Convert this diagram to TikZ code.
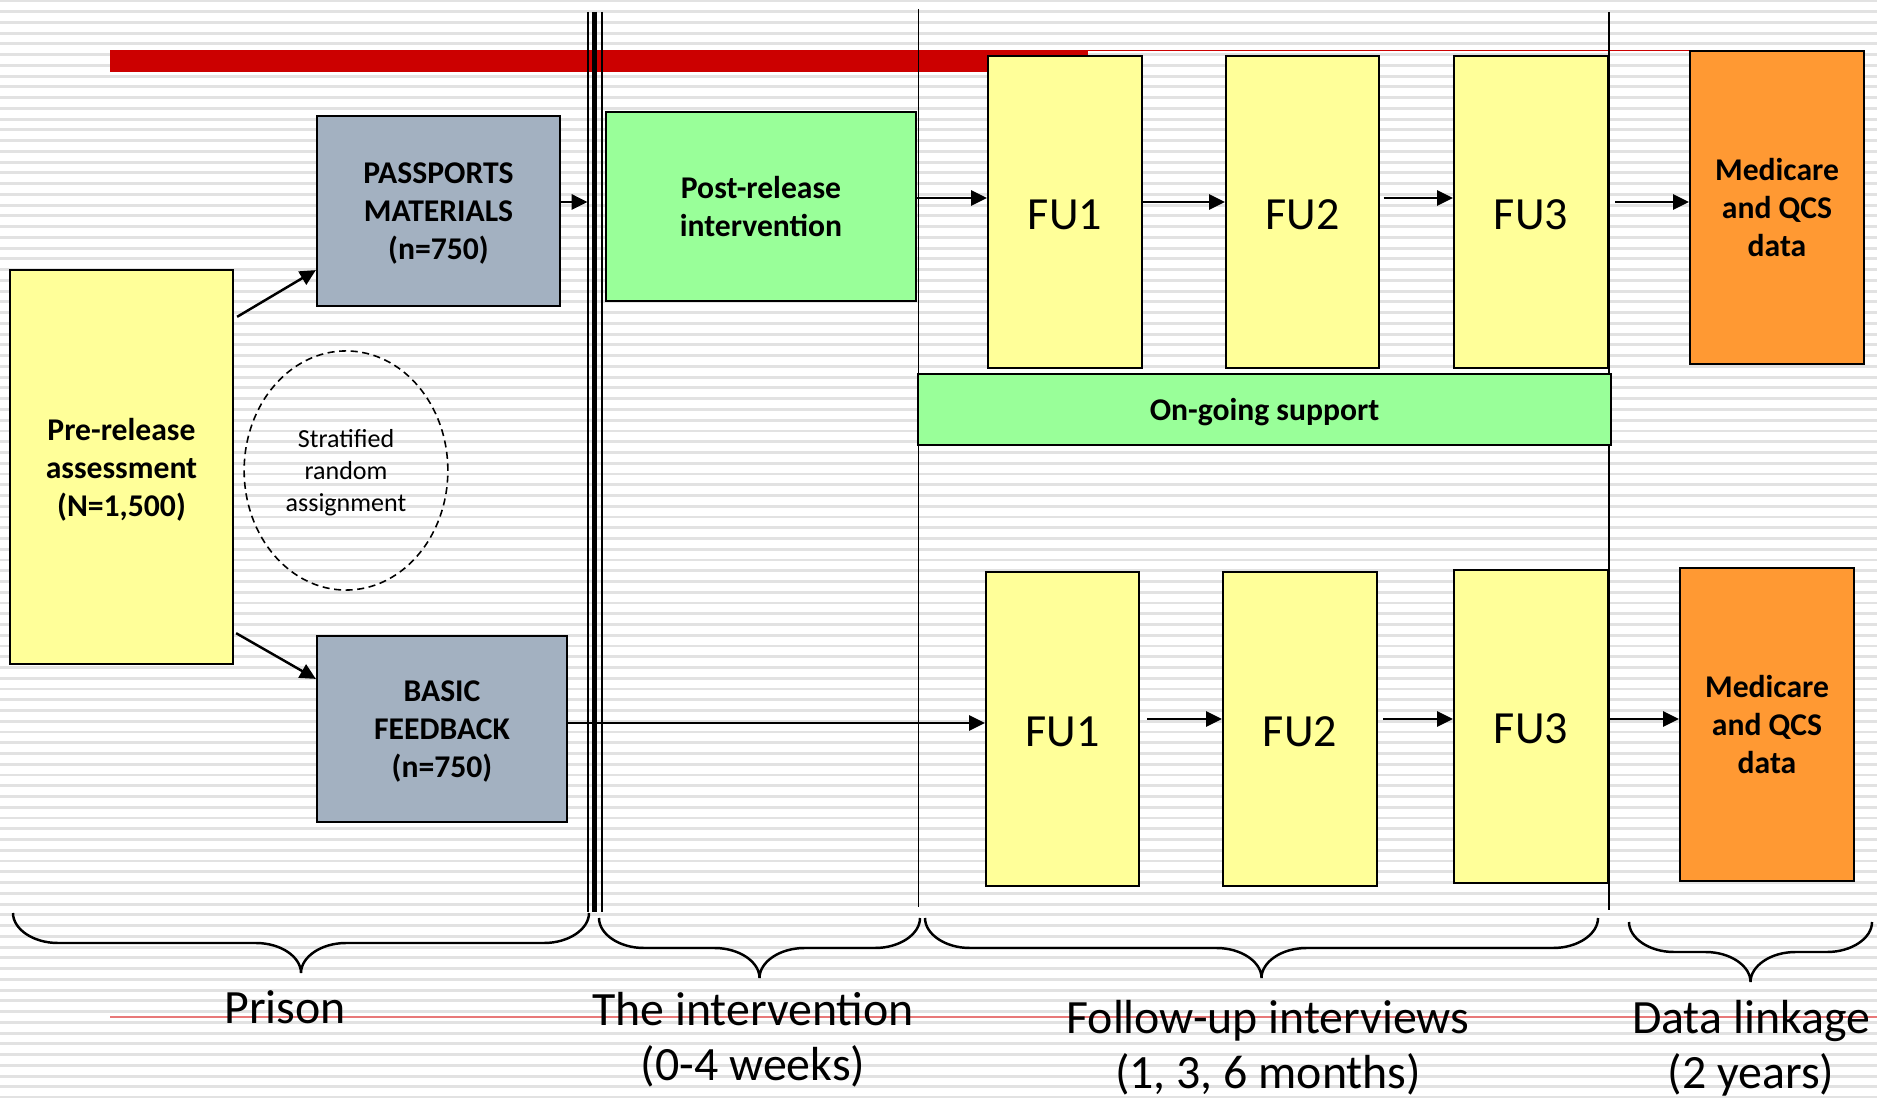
\documentclass[tikz,border=0pt]{standalone}
\usepackage{fontspec}
\setmainfont{Carlito}
\usepackage{xcolor}
\usetikzlibrary{arrows.meta, calc, shapes.geometric}
\definecolor{boxyellow}{HTML}{FFFF99}
\definecolor{boxgrey}{HTML}{A3B1C1}
\definecolor{boxgreen}{HTML}{99FF99}
\definecolor{boxorange}{HTML}{FF9933}
\definecolor{barred}{HTML}{CC0000}
\definecolor{linered}{HTML}{E87878}
\definecolor{stripegrey}{HTML}{E2E2E2}

% curly bracket under a phase: left x, right x, top y
\newcommand{\phasebrace}[3]{%
  \pgfmathsetmacro{\bmid}{(#1+#2)/2}%
  \draw[bracket] (#1,#3) .. controls (#1,{#3+16}) and ({#1+20},{#3+30}) .. ({#1+45},{#3+30})
    -- ({\bmid-45},{#3+30}) .. controls ({\bmid-20},{#3+30}) and (\bmid,{#3+44}) .. (\bmid,{#3+60})
    .. controls (\bmid,{#3+44}) and ({\bmid+20},{#3+30}) .. ({\bmid+45},{#3+30})
    -- ({#2-45},{#3+30}) .. controls ({#2-20},{#3+30}) and (#2,{#3+16}) .. (#2,#3);
}

\begin{document}
\begin{tikzpicture}[x=0.01cm, y=-0.01cm,
    box/.style={draw=black, line width=0.6pt, inner sep=0pt, align=center, text depth=0pt},
    boldtext/.style={font=\fontsize{9}{10.8}\selectfont\bfseries},
    futext/.style={font=\fontsize{13.1}{15}\selectfont, text height=9.9pt},
    phase/.style={font=\fontsize{13.6}{15.5}\selectfont, align=center, anchor=base, inner sep=0pt},
    arr/.style={-{Triangle[length=4.5pt, width=4.3pt]}, line width=0.7pt},
    bracket/.style={line width=0.7pt},
    stripe/.style={stripegrey, line width=0.85pt}]

      % Paper and ruled background
      \useasboundingbox (0,0) rectangle (1877,1098);
      \fill[white] (0,0) rectangle (1877,1098);
      \foreach \k in {0,...,102}
        \draw[stripe] (0,{1+10.75*\k}) -- (1877,{1+10.75*\k});

      % Red title bar and thin red rules
      \fill[barred] (110,50) rectangle (1088,72.5);
      \draw[barred, line width=0.5pt] (1088,50.5) -- (1781,50.5);
      \draw[linered, line width=0.6pt] (110,1017) -- (1877,1017);

      % Release wall (three lines) and phase dividers
      \coordinate (wallL) at (587.5,12);
      \draw[line width=0.57pt] (588.3,12) -- (588.3,912);
      \draw[line width=1.42pt] (594.2,12) -- (594.2,912);
      \draw[line width=0.57pt] (601.7,12) -- (601.7,912);
      \draw[line width=0.5pt] (918.5,9) -- (918.5,907);
      \draw[line width=0.5pt] (1609,12) -- (1609,910);

      % Prison boxes
      \node[box, boldtext, fill=boxyellow, minimum width=2.23cm, minimum height=3.94cm] (pre) at (121.5,467) {Pre-release\\assessment\\(N=1,500)};
      \node[box, boldtext, fill=boxgrey, minimum width=2.43cm, minimum height=1.90cm] (pass) at (438.5,211) {PASSPORTS\\MATERIALS\\(n=750)};
      \node[box, boldtext, fill=boxgrey, minimum width=2.50cm, minimum height=1.86cm] (basic) at (442,729) {BASIC\\FEEDBACK\\(n=750)};
      \node[ellipse, draw, dash pattern=on 2pt off 1.3pt, line width=0.45pt, minimum width=2.00cm, minimum height=2.39cm,
            align=center, text depth=0pt, font=\fontsize{7.4}{9.2}\selectfont] (strat) at (346,470.5) {Stratified\\random\\assignment};

      % Intervention box
      \node[box, boldtext, fill=boxgreen, minimum width=3.10cm, minimum height=1.89cm] (post) at (761,206.5) {Post-release\\intervention};

      % Follow-up boxes, upper arm
      \node[box, futext, fill=boxyellow, minimum width=1.54cm, minimum height=3.12cm] (fuA) at (1065,212) {FU1};
      \node[box, futext, fill=boxyellow, minimum width=1.53cm, minimum height=3.12cm] (fuB) at (1302.5,212) {FU2};
      \node[box, futext, fill=boxyellow, minimum width=1.54cm, minimum height=3.12cm] (fuC) at (1531,212) {FU3};
      \node[box, boldtext, fill=boxorange, minimum width=1.74cm, minimum height=3.13cm] (medA) at (1777,207.5) {Medicare\\and QCS\\data};
      \node[box, boldtext, fill=boxgreen, minimum width=6.93cm, minimum height=0.71cm] (supp) at (1264.5,409.5) {On-going support};

      % Follow-up boxes, lower arm
      \node[box, futext, fill=boxyellow, minimum width=1.53cm, minimum height=3.14cm] (fuD) at (1062.5,729) {FU1};
      \node[box, futext, fill=boxyellow, minimum width=1.54cm, minimum height=3.14cm] (fuE) at (1300,729) {FU2};
      \node[box, futext, fill=boxyellow, minimum width=1.54cm, minimum height=3.13cm] (fuF) at (1531,726.5) {FU3};
      \node[box, boldtext, fill=boxorange, minimum width=1.74cm, minimum height=3.13cm] (medB) at (1767,724.5) {Medicare\\and QCS\\data};

      % Draw arrows
      \coordinate (rowP) at (0,198);
      \coordinate (rowA) at (0,202);
      \coordinate (rowB) at (0,719);
      \coordinate (rowC) at (0,723);
      \draw[arr] ($(pre.north east)+(3,48)$) -- ($(pass.south west)+(0,-37)$);
      \draw[arr] ($(pre.south east)+(2,-32)$) -- ($(basic.north west)+(0,44)$);
      \draw[arr] (pass.east |- rowA) -- (wallL |- rowA);
      \draw[arr] (post.east |- rowP) -- (fuA.west |- rowP);
      \draw[arr] (fuA.east |- rowA) -- (fuB.west |- rowA);
      \draw[arr, shorten <=1pt] (fuB.east |- rowP) -- (fuC.west |- rowP);
      \draw[arr, shorten <=1.7pt] (fuC.east |- rowA) -- (medA.west |- rowA);
      \draw[arr] (basic.east |- rowC) -- (fuD.west |- rowC);
      \draw[arr, shorten <=2pt] (fuD.east |- rowB) -- (fuE.west |- rowB);
      \draw[arr, shorten <=1.4pt] (fuE.east |- rowB) -- (fuF.west |- rowB);
      \draw[arr] (fuF.east |- rowB) -- (medB.west |- rowB);

      % Draw phase brackets
      \phasebrace{13}{589}{913}
      \phasebrace{599}{920}{918}
      \phasebrace{925}{1598}{918}
      \phasebrace{1629}{1872}{922}

      % Phase labels (base = last line)
      \node[phase] (prison) at (285,1023) {Prison};
      \node[phase] (interv) at (753,1080) {The intervention\\(0-4 weeks)};
      \node[phase] (follow) at (1268,1088) {Follow-up interviews\\(1, 3, 6 months)};
      \node[phase] (linkage) at (1751,1088) {Data linkage\\(2 years)};
    \end{tikzpicture}
\end{document}
